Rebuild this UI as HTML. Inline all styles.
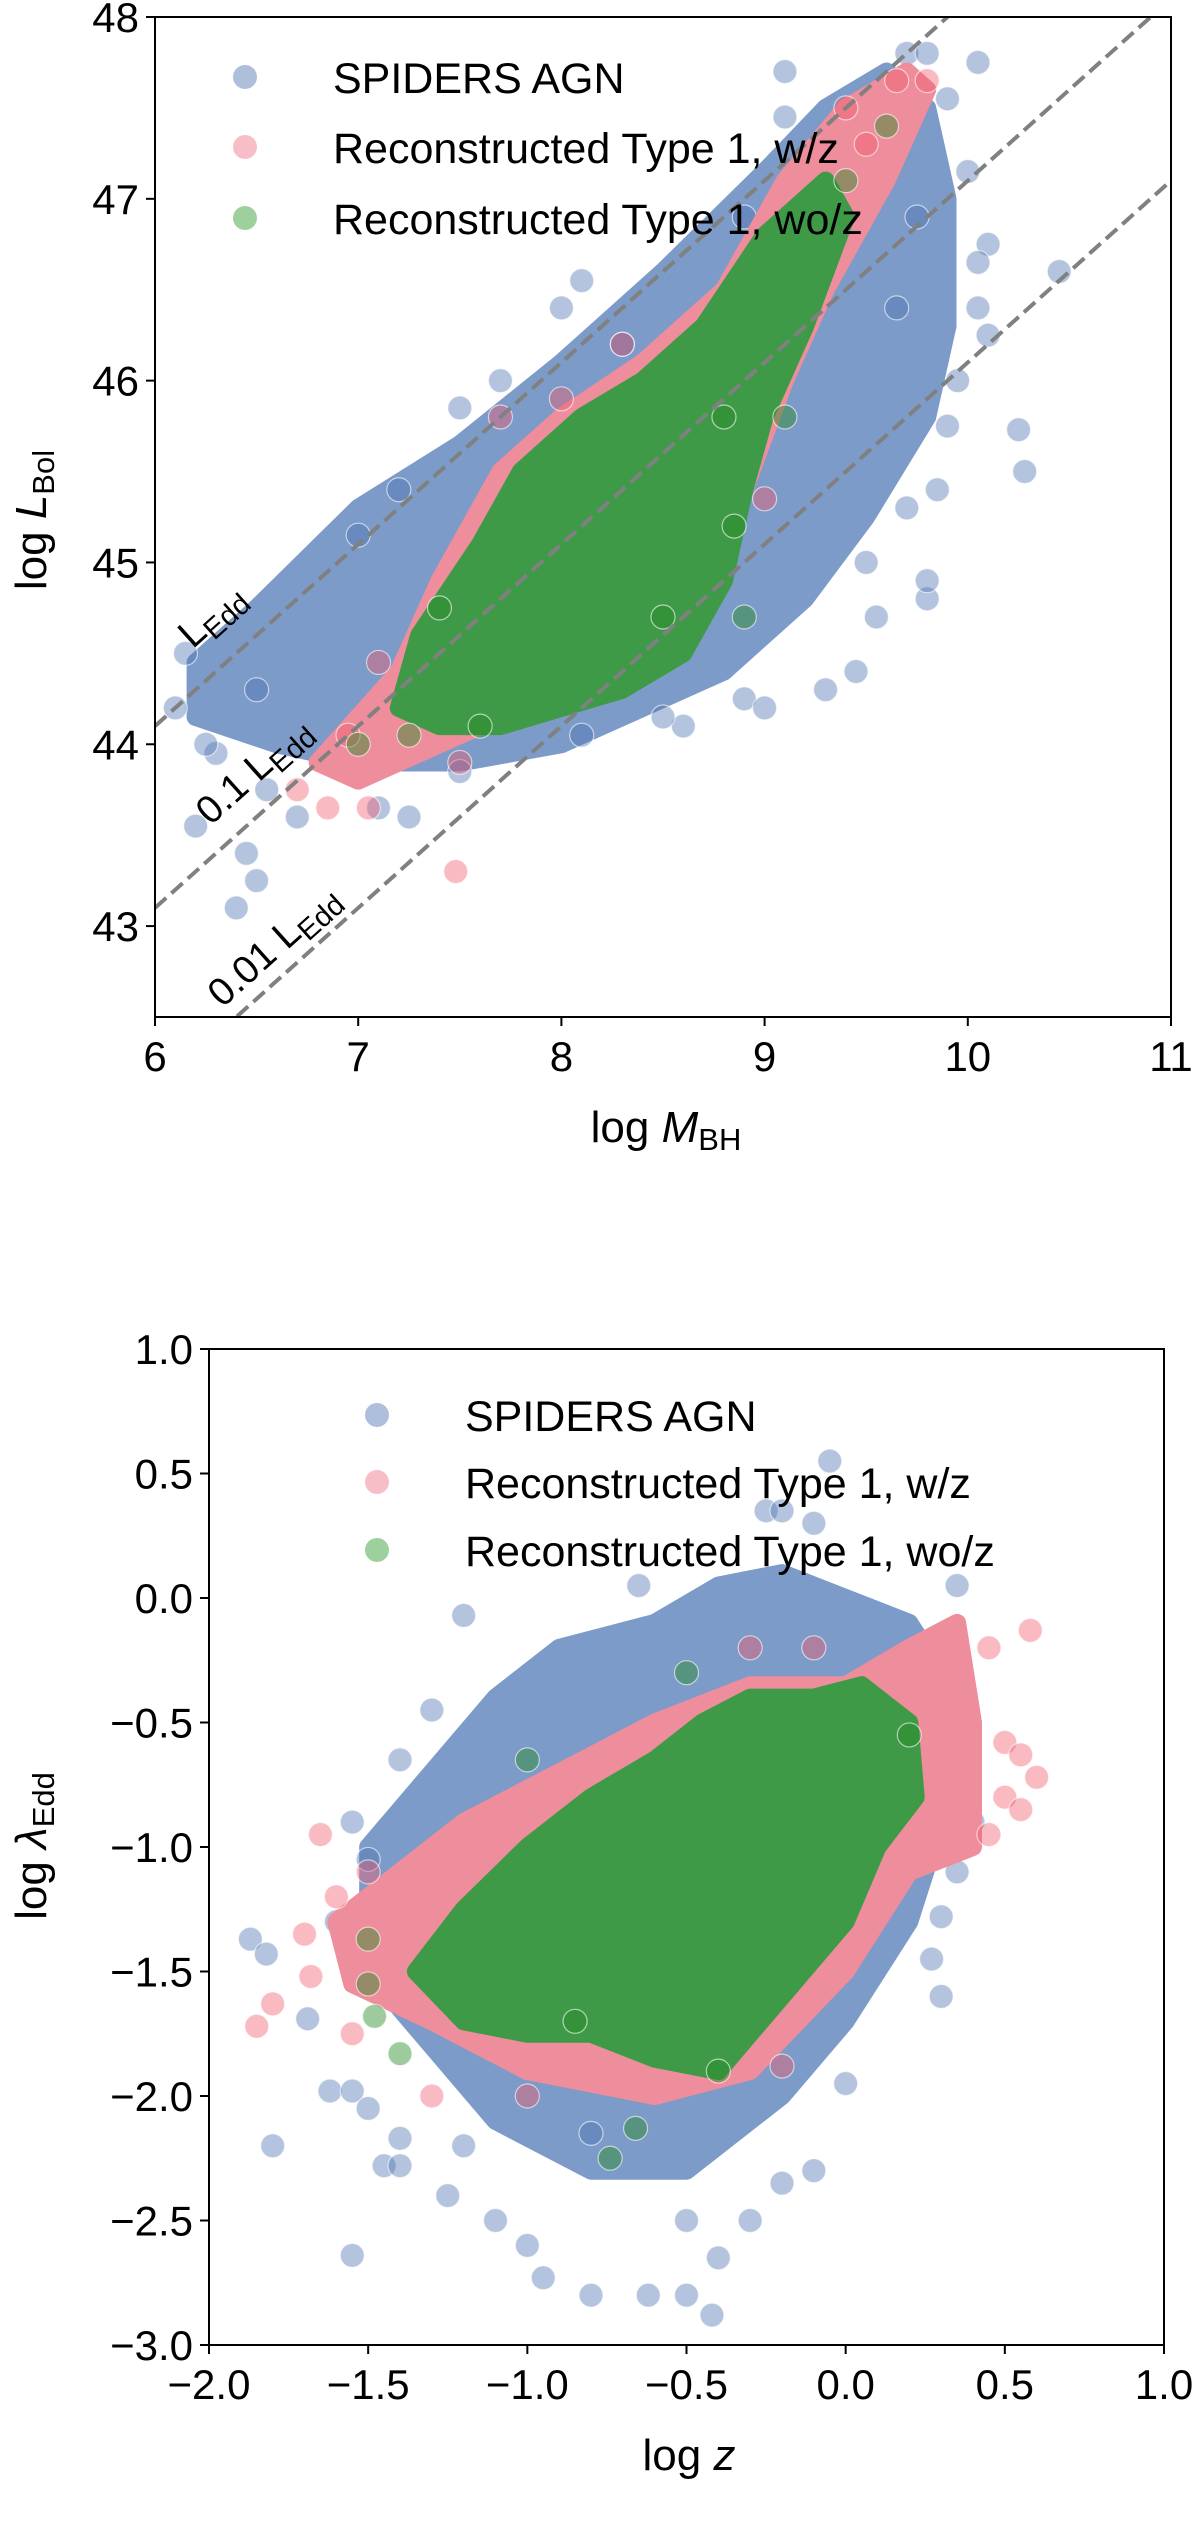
<!DOCTYPE html>
<html><head><meta charset="utf-8">
<style>
html,body{margin:0;padding:0;background:#fff;}
svg{display:block;font-family:"Liberation Sans",sans-serif;}
</style></head>
<body>
<svg id="fig" width="1200" height="2536" viewBox="0 0 1200 2536">
<defs>
<clipPath id="clipA"><rect x="155" y="17" width="1016" height="1000"/></clipPath>
<clipPath id="clipB"><rect x="209" y="1349" width="955" height="996"/></clipPath>
</defs>
<g id="plotA"></g>
<g id="plotB"></g>
</svg>
<script>
// ---------- Panel A data (log M_BH, log L_Bol) ----------
const aXTicks = [6,7,8,9,10,11];
const aYTicks = [43,44,45,46,47,48];
const aEddOffsets = [38.1, 37.1, 36.1];
const aBlueHull = [[6.2,44.45],[6.5,44.75],[7.0,45.3],[7.5,45.65],[8.0,46.1],[8.5,46.6],[9.0,47.15],[9.3,47.5],[9.6,47.7],[9.8,47.5],[9.9,47.0],[9.9,46.3],[9.8,45.8],[9.5,45.25],[9.2,44.8],[8.8,44.4],[8.4,44.2],[8.0,44.0],[7.5,43.9],[7.0,43.9],[6.6,44.0],[6.2,44.15]];
const aRedHull = [[6.8,43.9],[7.2,44.4],[7.4,44.9],[7.7,45.5],[8.0,45.8],[8.4,46.1],[8.8,46.5],[9.1,47.1],[9.4,47.5],[9.7,47.7],[9.8,47.6],[9.6,47.1],[9.3,46.5],[9.1,46.0],[8.9,45.4],[8.6,44.9],[8.2,44.5],[7.8,44.2],[7.4,44.0],[7.0,43.8]];
const aGreenHull = [[7.2,44.2],[7.3,44.6],[7.6,45.1],[7.8,45.5],[8.1,45.8],[8.4,46.0],[8.7,46.3],[9.0,46.8],[9.3,47.1],[9.4,46.9],[9.2,46.3],[9.0,45.8],[8.9,45.4],[8.8,44.9],[8.6,44.5],[8.3,44.3],[8.0,44.2],[7.7,44.1],[7.4,44.1]];
const aBluePts = [[6.2,43.55],[6.4,43.1],[6.45,43.4],[6.5,43.25],[6.3,43.95],[6.25,44.0],[6.5,44.3],[7.0,45.15],[7.2,45.4],[7.5,45.85],[7.7,46.0],[8.0,46.4],[8.1,46.55],[8.3,46.2],[8.9,46.9],[9.1,47.7],[9.1,47.45],[9.7,47.8],[9.8,47.8],[10.05,47.75],[10.0,47.15],[10.1,46.75],[10.05,46.65],[10.45,46.6],[10.1,46.25],[9.9,45.75],[10.25,45.73],[10.28,45.5],[9.85,45.4],[9.8,44.8],[9.8,44.9],[9.55,44.7],[9.3,44.3],[9.45,44.4],[8.9,44.25],[8.6,44.1],[8.1,44.05],[7.5,43.85],[7.25,43.6],[7.1,43.65],[6.55,43.75],[6.7,43.6],[6.1,44.2],[6.15,44.5],[9.0,44.2],[8.5,44.15],[9.5,45.0],[9.7,45.3],[9.95,46.0],[9.65,46.4],[9.75,46.9],[9.5,47.3],[9.3,47.3],[10.05,46.4],[9.9,47.55]];
const aRedPts = [[6.85,43.65],[7.05,43.65],[7.48,43.3],[7.5,43.9],[7.3,44.5],[7.1,44.45],[6.95,44.05],[7.7,45.8],[8.0,45.9],[8.9,45.55],[9.0,45.35],[8.3,46.2],[9.65,47.65],[9.8,47.65],[9.4,47.5],[9.5,47.3],[8.6,44.55],[9.1,46.3],[6.7,43.75]];
const aGreenPts = [[7.0,44.0],[7.25,44.05],[7.6,44.1],[8.5,44.7],[8.9,44.7],[8.85,45.2],[9.6,47.4],[9.4,47.1],[7.4,44.75],[9.1,45.8],[8.8,45.8]];

// ---------- Panel B data (log z, log lambda_Edd) ----------
const bXTicks = [-2.0,-1.5,-1.0,-0.5,0.0,0.5,1.0];
const bYTicks = [-3.0,-2.5,-2.0,-1.5,-1.0,-0.5,0.0,0.5,1.0];
const bBlueHull = [[-1.5,-1.0],[-1.3,-0.7],[-1.1,-0.4],[-0.9,-0.2],[-0.6,-0.1],[-0.4,0.05],[-0.2,0.1],[0.0,0.0],[0.2,-0.1],[0.35,-0.4],[0.3,-0.9],[0.2,-1.3],[0.0,-1.7],[-0.2,-2.0],[-0.5,-2.3],[-0.8,-2.3],[-1.1,-2.1],[-1.3,-1.8],[-1.5,-1.5]];
const bRedHull = [[-1.6,-1.3],[-1.4,-1.1],[-1.2,-0.9],[-0.9,-0.7],[-0.6,-0.5],[-0.3,-0.35],[0.0,-0.35],[0.2,-0.2],[0.35,-0.1],[0.4,-0.5],[0.4,-1.0],[0.2,-1.1],[0.0,-1.5],[-0.3,-1.9],[-0.6,-2.0],[-1.0,-1.9],[-1.3,-1.7],[-1.55,-1.55]];
const bGreenHull = [[-1.35,-1.5],[-1.2,-1.25],[-1.0,-1.0],[-0.8,-0.8],[-0.6,-0.65],[-0.45,-0.5],[-0.3,-0.4],[-0.1,-0.4],[0.05,-0.35],[0.2,-0.5],[0.22,-0.8],[0.1,-1.0],[0.0,-1.3],[-0.2,-1.6],[-0.4,-1.9],[-0.6,-1.85],[-0.8,-1.75],[-1.0,-1.75],[-1.2,-1.7]];
const bBluePts = [[-1.87,-1.37],[-1.82,-1.43],[-1.8,-2.2],[-1.69,-1.69],[-1.62,-1.98],[-1.55,-1.98],[-1.5,-2.05],[-1.55,-2.64],[-1.45,-2.28],[-1.4,-2.28],[-1.4,-2.17],[-1.25,-2.4],[-1.1,-2.5],[-1.0,-2.6],[-0.95,-2.73],[-0.8,-2.8],[-0.62,-2.8],[-0.5,-2.8],[-0.42,-2.88],[-0.4,-2.65],[-0.3,-2.5],[-0.2,-2.35],[-0.1,-2.3],[0.0,-1.95],[0.3,-1.6],[0.27,-1.45],[0.3,-1.28],[0.35,-1.1],[0.4,-0.9],[0.28,-0.45],[0.35,0.05],[-0.1,0.3],[-0.05,0.55],[-0.25,0.35],[-0.2,0.35],[-0.65,0.05],[-1.2,-0.07],[-1.3,-0.45],[-1.4,-0.65],[-1.55,-0.9],[-1.5,-1.05],[-1.6,-1.3],[-0.8,-2.15],[-0.5,-2.5],[-1.2,-2.2]];
const bRedPts = [[-1.85,-1.72],[-1.8,-1.63],[-1.7,-1.35],[-1.68,-1.52],[-1.6,-1.2],[-1.65,-0.95],[-1.5,-1.1],[-1.55,-1.75],[0.58,-0.13],[0.45,-0.2],[0.5,-0.58],[0.55,-0.63],[0.6,-0.72],[0.5,-0.8],[0.45,-0.95],[0.55,-0.85],[-0.2,-1.88],[-1.0,-2.0],[-1.3,-2.0],[-0.3,-0.2],[-0.1,-0.2]];
const bGreenPts = [[-1.5,-1.55],[-1.48,-1.68],[-1.4,-1.83],[-1.5,-1.37],[-0.66,-2.13],[-0.74,-2.25],[-1.0,-0.65],[-0.5,-0.3],[0.2,-0.55],[-0.4,-1.9],[-0.85,-1.7]];

const legendLabels = ["SPIDERS AGN","Reconstructed Type 1, w/z","Reconstructed Type 1, wo/z"];

const NS = "http://www.w3.org/2000/svg";
function mk(parent, tag, attrs, name){
  const e = document.createElementNS(NS, tag);
  for (const k in attrs) e.setAttribute(k, attrs[k]);
  
  
  parent.appendChild(e);
  return e;
}
const COLORS = {
  blue:{hull:"#7c9bc8", pt:"rgba(76,114,176,0.42)"},
  red:{hull:"#ee8d9c", pt:"rgba(240,90,110,0.42)"},
  green:{hull:"#3f9a47", pt:"rgba(40,140,40,0.45)"}
};

function panel(g, box, xd, yd, clipId, series, xTicks, yTicks, fmt){
  const sx = v => box.x0 + (v - xd[0]) / (xd[1]-xd[0]) * (box.x1-box.x0);
  const sy = v => box.y1 - (v - yd[0]) / (yd[1]-yd[0]) * (box.y1-box.y0);
  const data = mk(g,'g',{'clip-path':'url(#'+clipId+')'},'data-layer');
  series.forEach(s=>{
    const pts = s.hull.map(p=>sx(p[0]).toFixed(1)+','+sy(p[1]).toFixed(1)).join(' ');
    mk(data,'polygon',{points:pts,fill:COLORS[s.c].hull,stroke:COLORS[s.c].hull,'stroke-width':18,'stroke-linejoin':'round'}, s.c+'-density-region');
    s.pts.forEach(p=>{
      mk(data,'circle',{cx:sx(p[0]),cy:sy(p[1]),r:12,fill:COLORS[s.c].pt,stroke:'rgba(255,255,255,0.6)','stroke-width':1.2}, s.c+'-point');
    });
  });
  mk(g,'rect',{x:box.x0,y:box.y0,width:box.x1-box.x0,height:box.y1-box.y0,fill:'none',stroke:'#000','stroke-width':2},'axes-frame');
  xTicks.forEach(t=>{
    const x = sx(t);
    mk(g,'line',{x1:x,x2:x,y1:box.y1,y2:box.y1+9,stroke:'#000','stroke-width':2},'x-tick');
    const tx = mk(g,'text',{x:x,y:box.y1+54,'font-size':42,'text-anchor':'middle',fill:'#000'},'x-tick-label');
    tx.textContent = fmt(t);
  });
  yTicks.forEach(t=>{
    const y = sy(t);
    mk(g,'line',{x1:box.x0-9,x2:box.x0,y1:y,y2:y,stroke:'#000','stroke-width':2},'y-tick');
    const ty = mk(g,'text',{x:box.x0-16,y:y+15,'font-size':42,'text-anchor':'end',fill:'#000'},'y-tick-label');
    ty.textContent = fmt(t);
  });
  return {sx, sy, data};
}
function legend(g, lx, tx, ys){
  const cols = ['blue','red','green'];
  const fills = ["rgba(76,114,176,0.45)","rgba(240,110,130,0.45)","rgba(40,150,40,0.45)"];
  ys.forEach((y,i)=>{
    mk(g,'circle',{cx:lx,cy:y,r:12,fill:fills[i]},'legend-marker-'+cols[i]);
    const t = mk(g,'text',{x:tx,y:y+16,'font-size':43,fill:'#000'},'legend-label-'+cols[i]);
    t.textContent = legendLabels[i];
  });
}
const minus = t => (t<0?'\u2212':'') + Math.abs(t).toFixed(1);

// Panel A
const gA = document.getElementById('plotA');
const A = panel(gA,{x0:155,x1:1171,y0:17,y1:1017},[6,11],[42.5,48],'clipA',
 [{c:'blue',hull:aBlueHull,pts:aBluePts},{c:'red',hull:aRedHull,pts:aRedPts},{c:'green',hull:aGreenHull,pts:aGreenPts}],
 aXTicks,aYTicks,t=>String(t));
aEddOffsets.forEach((o,i)=>{
  mk(A.data,'line',{x1:A.sx(6),y1:A.sy(6+o),x2:A.sx(11),y2:A.sy(11+o),stroke:'#808080','stroke-width':4,'stroke-dasharray':'15 7'},'eddington-line-'+i);
});
const eddLabels = [["L","Edd",220,625],["0.1 L","Edd",262,780],["0.01 L","Edd",282,955]];
eddLabels.forEach((l,i)=>{
  const t = mk(gA,'text',{x:l[2],y:l[3],'font-size':39,'text-anchor':'middle',fill:'#000',transform:'rotate(-41.9 '+l[2]+' '+l[3]+')'},'eddington-line-label-'+i);
  t.innerHTML = l[0]+'<tspan font-size="29" dy="8">'+l[1]+'</tspan>';
});
legend(gA,245,333,[77,147,218]);
const xa = mk(gA,'text',{x:666,y:1142,'font-size':44,'text-anchor':'middle',fill:'#000'},'x-axis-title');
xa.innerHTML = 'log <tspan font-style="italic">M</tspan><tspan font-size="31" dy="8">BH</tspan>';
const ya = mk(gA,'text',{x:46,y:520,'font-size':44,'text-anchor':'middle',fill:'#000',transform:'rotate(-90 46 520)'},'y-axis-title');
ya.innerHTML = 'log <tspan font-style="italic">L</tspan><tspan font-size="31" dy="8">Bol</tspan>';

// Panel B
const gB = document.getElementById('plotB');
const B = panel(gB,{x0:209,x1:1164,y0:1349,y1:2345},[-2,1],[-3,1],'clipB',
 [{c:'blue',hull:bBlueHull,pts:bBluePts},{c:'red',hull:bRedHull,pts:bRedPts},{c:'green',hull:bGreenHull,pts:bGreenPts}],
 bXTicks,bYTicks,minus);
legend(gB,377,465,[1415,1482,1550]);
const xb = mk(gB,'text',{x:689,y:2470,'font-size':44,'text-anchor':'middle',fill:'#000'},'x-axis-title');
xb.innerHTML = 'log <tspan font-style="italic">z</tspan>';
const yb = mk(gB,'text',{x:46,y:1846,'font-size':44,'text-anchor':'middle',fill:'#000',transform:'rotate(-90 46 1846)'},'y-axis-title');
yb.innerHTML = 'log <tspan font-style="italic">λ</tspan><tspan font-size="31" dy="8">Edd</tspan>';
</script>
</body></html>
